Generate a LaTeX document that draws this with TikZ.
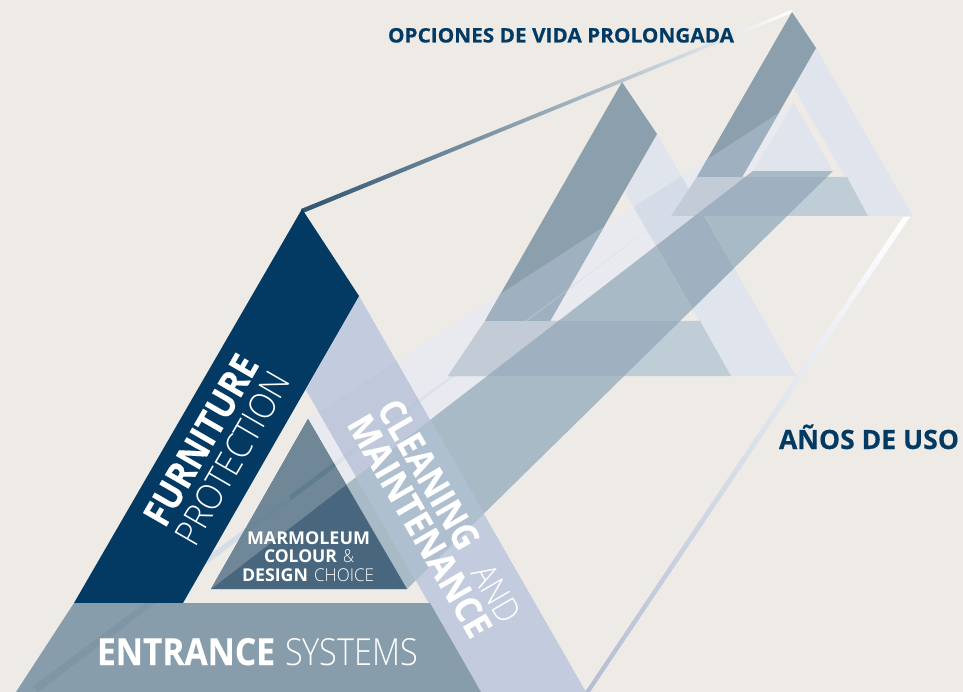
\documentclass[tikz,border=0pt]{standalone}
\usepackage{fontspec}
\usepackage{graphicx}
\setmainfont{Open Sans}
\newfontfamily\lightf{Open Sans Light}
\newcommand\heavyf{\bfseries\addfontfeature{FakeBold=0.4}}
\usetikzlibrary{calc}
\definecolor{bgc}{HTML}{EEEBE6}
\definecolor{navy}{HTML}{033A63}
\definecolor{entr}{HTML}{879DAB}
\definecolor{lav}{HTML}{C3CBDE}
\definecolor{lavL}{HTML}{C0C9DC}
\definecolor{lavD}{HTML}{AEBFD0}
\definecolor{core}{HTML}{48677E}
\definecolor{coreL}{HTML}{6F8796}
\definecolor{coreW}{HTML}{6C8695}
\definecolor{coreX}{HTML}{5F7D91}
\definecolor{liteb}{HTML}{E9EAF0}
\definecolor{darkb}{HTML}{A9BAC7}
\definecolor{ghostN}{HTML}{8BA0AC}
\definecolor{ghostV}{HTML}{E0E4ED}
\definecolor{ghostE}{HTML}{BFCDD6}
\definecolor{ovD}{HTML}{9FB0C0}
\definecolor{ovLE}{HTML}{C3CBD7}
\definecolor{ovLV}{HTML}{D5DCE7}
\definecolor{wedgeBg}{HTML}{D5DEE6}
\definecolor{wedgeL}{HTML}{DDE3EA}
\definecolor{wedgeE}{HTML}{7E96A6}
\definecolor{wedgeV}{HTML}{BAC7D8}
\definecolor{lineA}{HTML}{2F5470}
\definecolor{lineB}{HTML}{8FA5B4}
\definecolor{lineC}{HTML}{B4BDD4}
\definecolor{lineD}{HTML}{CFDADF}
\def\pL{(211,589)--(308,419)--(794,103)--(753,171)--cycle}
\def\pD{(211,589)--(407,589)--(833,171)--(753,171)--cycle}
\def\pW{(33,686)--(38,692)--(670,213)--cycle}
\def\pNb{(622,82)--(657,134)--(550,321)--(485,321)--cycle}
\def\pVb{(657,134)--(796,376)--(731,376)--(625,192)--cycle}
\def\pEb{(485,321)--(700,321)--(731,376)--(448,376)--cycle}
\def\pNc{(792,12)--(816,48)--(742,177)--(697,177)--cycle}
\def\pVc{(816,48)--(913,216)--(868,216)--(793,87)--cycle}
\def\pEc{(697,177)--(847,177)--(868,216)--(671,216)--cycle}
\def\pTc{(794,103)--(833,171)--(753,171)--cycle}
\def\pN{(302,209)--(359,296)--(183,603)--(74,603)--cycle}
\def\pV{(359,296)--(586,692)--(480,692)--(306,390)--cycle}
\def\pE{(74,603)--(430,603)--(481,692)--(16,692)--cycle}
\def\pC{(308,419)--(407,589)--(211,589)--cycle}
\def\pWr{(290,400)--(400,400)--(400,520)--(290,520)--cycle}
\newcommand\ovl[3]{\begin{scope}\clip #1;\fill[#3] #2;\end{scope}}
\newcommand\word[7]{\node[wordtxt,rotate=#3] (#1) at (#2) {\resizebox{#4pt}{#5pt}{#6{}#7}};}
\tikzset{wordtxt/.style={anchor=base west,inner sep=0pt,outer sep=0pt,text=white},
 heading/.style={anchor=base west,inner sep=0pt,outer sep=0pt,text=navy}}
\begin{document}
\begin{tikzpicture}[x=1pt,y=-1pt]
\useasboundingbox (0,0) rectangle (963,692);
\fill[bgc] (0,0) rectangle (963,692);
% gradient lines
\shade[left color=lineA,middle color=lineB,right color=white] (301,209)--(791,10)--(793,12.5)--(303,213)--cycle;
\shade[top color=white,middle color=lineD,bottom color=lineC] (903,217)--(910,217)--(590,692)--(585,692)--cycle;
% projected bands
\fill[wedgeBg] \pW;
\fill[liteb] \pL;
\ovl{\pL}{\pW}{wedgeL}
\fill[darkb] \pD;
% ghost triangles
\fill[ghostV] \pVb; \fill[ghostV] \pVc;
\fill[ghostE] \pEb; \fill[ghostE] \pEc;
\fill[ghostN] \pNb; \fill[ghostN] \pNc;
\fill[ghostV] \pTc;
% overlaps
\ovl{\pVb}{\pL}{ovLV}
\ovl{\pVb}{\pD}{ovD}
\ovl{\pEb}{\pL}{ovLE}
\ovl{\pEc}{\pL}{ovLE}
\ovl{\pEb}{\pD}{ovD}
\ovl{\pEc}{\pD}{ovD}
\ovl{\pNb}{\pL}{ovD}
\ovl{\pNc}{\pL}{ovD}
\ovl{\pEb}{\pW}{ghostE}
\ovl{\pNb}{\pW}{ovD!85!white}
% main triangle
\fill[lav] \pV;
\ovl{\pV}{\pL}{lavL}
\ovl{\pV}{\pD}{lavD}
\ovl{\pV}{\pW}{wedgeV}
\fill[core] \pC;
\ovl{\pC}{\pL}{coreL}
\ovl{\pC}{\pW}{coreW}
\begin{scope}\clip \pC; \clip \pWr; \fill[coreX] \pW;\end{scope}
\fill[navy] \pN;
\fill[entr] \pE;
\ovl{\pE}{\pW}{wedgeE}
% labels
\word{furn}{165,529}{60}{190}{27}{\heavyf}{FURNITURE}
\word{prot}{195,548}{60}{193}{26}{\lightf}{PROTECTION}
\word{clean}{376,409}{-60}{166}{26.5}{\heavyf}{CLEANING}
\word{and}{470,573}{-60}{62}{25}{\lightf}{AND}
\word{maint}{346,424}{-60}{250}{26.5}{\heavyf}{MAINTENANCE}
\word{ent}{97,665}{0}{178}{27}{\heavyf}{ENTRANCE}
\word{sys}{285,665}{0}{133}{27}{\lightf}{SYSTEMS}
\word{marm}{247,544.5}{0}{123}{12.8}{\bfseries}{MARMOLEUM}
\word{col}{264,562.5}{0}{73}{12.8}{\bfseries}{COLOUR}
\word{amp}{343,562.5}{0}{11}{12.8}{\lightf}{\&}
\word{des}{242,581}{0}{66}{12.8}{\bfseries}{DESIGN}
\word{cho}{314,581}{0}{60}{12.8}{\lightf}{CHOICE}
\node[heading] (vida) at (388,42.5) {\resizebox{346pt}{14.5pt}{\heavyf OPCIONES DE VIDA PROLONGADA}};
\node[heading] (anos) at (779,449) {\resizebox{180pt}{!}{\heavyf AÑOS DE USO}};
\end{tikzpicture}
\end{document}
